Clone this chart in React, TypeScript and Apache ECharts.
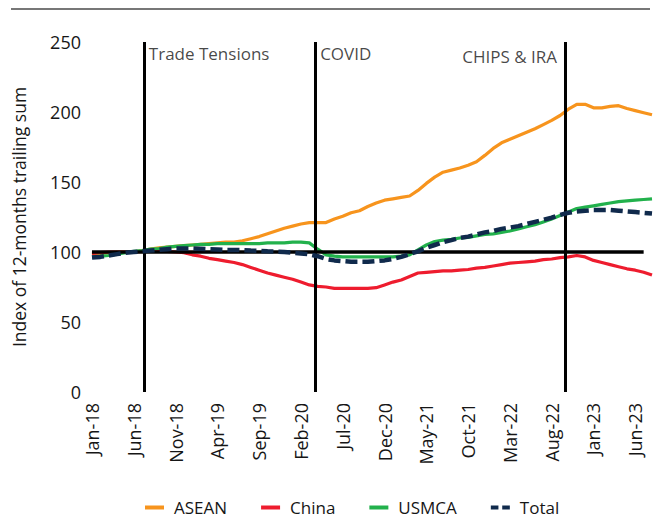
import React, { useEffect, useRef } from "react";
import * as echarts from "echarts";

// Monthly index values, Jan-18 (index 0) to Aug-23 (index 67)
const asean = [
  98, 99, 99.5, 100, 100, 100, 101, 102, 103, 103.5,
  104, 104.5, 105, 105.5, 106, 106.5, 107, 107, 108, 109.5,
  111, 113, 115, 117, 118.5, 120, 121, 121, 121, 123.5,
  125.5, 128, 129.5, 132.5, 135, 137, 138, 139, 140, 144,
  149, 153.5, 157, 158.5, 160, 162, 164.5, 169, 174, 178,
  180.5, 183, 185.5, 188, 191, 194, 197.5, 202, 205.5, 205.5,
  203, 203, 204, 204.5, 202.5, 201, 199.5, 198,
];
const china = [
  99, 99.5, 100, 100, 100, 100, 100.5, 100.5, 100.5, 100.5,
  100, 99.5, 98, 97, 95.5, 94.5, 93.5, 92.5, 91, 89,
  87, 85, 83.5, 82, 80.5, 78.5, 76.5, 75.5, 75, 74,
  74, 74, 74, 74, 74.5, 76.5, 78.5, 80, 82.5, 85,
  85.5, 86, 86.5, 86.5, 87, 87.5, 88.5, 89, 90, 91,
  92, 92.5, 93, 93.5, 94.5, 95, 96, 96.5, 97.5, 96.5,
  94, 92.5, 91, 89.5, 88, 87, 85.5, 83.5,
];
const usmca = [
  96.5, 97, 97.5, 98.5, 99.5, 100.5, 101, 102, 102.5, 103.5,
  104, 104.5, 105, 105.5, 105.5, 106, 106, 106, 106, 106,
  106, 106.5, 106.5, 106.5, 107, 107, 106.5, 102, 98, 97,
  96.5, 96.5, 96.5, 96.5, 96.5, 96.5, 96.5, 97, 98, 101.5,
  105, 107.5, 108.5, 109, 110, 110.5, 111.5, 112.5, 113, 114,
  115, 116.5, 118, 119.5, 121.5, 123.5, 126, 128.5, 131, 132,
  133, 134, 135, 136, 136.5, 137, 137.5, 138,
];
const total = [
  96, 96.5, 97.5, 98.5, 99.5, 100, 100.5, 101, 101.5, 102,
  102.5, 102.5, 102.5, 102.3, 102, 101.8, 101.5, 101.5, 101.3, 101,
  100.8, 100.5, 100.3, 100, 99.5, 99, 98.3, 97, 95, 94,
  93.5, 93, 93, 93, 93.5, 94, 95, 96.5, 98.5, 100.5,
  103, 105, 107, 108.5, 110, 111, 112.5, 114, 115, 116.5,
  117.5, 118.5, 120, 121.5, 123, 124.5, 126.5, 128, 129, 129.5,
  130, 130, 130, 129.5, 129, 128.5, 128, 127.5,
];

// x-axis tick labels, one every 5 months starting Jan-18
const tickLabels = [
  "Jan-18", "Jun-18", "Nov-18", "Apr-19", "Sep-19", "Feb-20", "Jul-20",
  "Dec-20", "May-21", "Oct-21", "Mar-22", "Aug-22", "Jan-23", "Jun-23",
];

// Event markers (month index position) and their labels
const eventNames = ["Trade Tensions", "COVID", "CHIPS & IRA"];
const eventPos = [6.2, 26.7, 56.6];
const eventLabelY = [241.5, 242, 240];
const eventLabelSide = ["right", "right", "left"];

const baselineValue = 100;
const baselineEnd = 66;

const FONT = "'Open Sans', 'Noto Sans', sans-serif";
const TXT = "#161616";

export default function App() {
  const ref = useRef<HTMLDivElement>(null);

  useEffect(() => {
    if (!ref.current) return;
    const chart = echarts.init(ref.current, null, { renderer: "svg" });
    const toXY = (arr: number[]) => arr.map((v, i) => [i, v]);

    const option: any = {
      animation: false,
      textStyle: { fontFamily: FONT, color: TXT },
      grid: {
        left: 92,
        right: 2,
        top: 42,
        bottom: 139,
        containLabel: false,
        outerBoundsMode: "none",
      },
      graphic: [
        {
          type: "line",
          shape: { x1: 11, y1: 9, x2: 650, y2: 9 },
          style: { stroke: "#4a4a4a", lineWidth: 1.5 },
        },
      ],
      legend: {
        data: [
          { name: "ASEAN", icon: "rect" },
          { name: "China", icon: "rect" },
          { name: "USMCA", icon: "rect" },
          { name: "Total", icon: "path://M0,0H8V4H0Z M12,0H20V4H12Z" },
        ],
        left: 145,
        top: 499,
        padding: 0,
        itemWidth: 19,
        itemHeight: 4,
        itemGap: 34,
        textStyle: { fontFamily: FONT, fontSize: 17, color: TXT, padding: [0, 0, 0, 5] },
      },
      xAxis: {
        type: "value",
        min: 0,
        max: 67,
        interval: 5,
        axisLine: { show: false },
        axisTick: { show: false },
        splitLine: { show: false },
        axisLabel: {
          rotate: 90,
          margin: 11,
          fontSize: 18,
          fontFamily: FONT,
          color: TXT,
          formatter: (v: number) => (v % 5 === 0 ? tickLabels[v / 5] || "" : ""),
        },
      },
      yAxis: {
        type: "value",
        min: 0,
        max: 250,
        interval: 50,
        axisLine: { show: false },
        axisTick: { show: false },
        splitLine: { show: false },
        axisLabel: { margin: 11, fontSize: 18, fontFamily: FONT, color: TXT },
        name: "Index of 12-months trailing sum",
        nameLocation: "middle",
        nameGap: 64,
        nameTextStyle: { fontSize: 17.5, fontFamily: FONT, color: TXT },
      },
      series: [
        {
          name: "ASEAN",
          type: "line",
          data: toXY(asean),
          symbol: "none",
          lineStyle: { color: "#F7941D", width: 3.2 },
          itemStyle: { color: "#F7941D" },
          z: 2,
        },
        {
          name: "China",
          type: "line",
          data: toXY(china),
          symbol: "none",
          lineStyle: { color: "#EE1C2E", width: 3.2 },
          itemStyle: { color: "#EE1C2E" },
          z: 2,
        },
        {
          name: "USMCA",
          type: "line",
          data: toXY(usmca),
          symbol: "none",
          lineStyle: { color: "#22B14C", width: 3.2 },
          itemStyle: { color: "#22B14C" },
          z: 2,
        },
        {
          name: "Events",
          type: "scatter",
          data: eventPos.map((p, i) => ({
            value: [p, eventLabelY[i]],
            name: eventNames[i],
            label: { position: eventLabelSide[i], distance: eventLabelSide[i] === "left" ? 8 : 5 },
          })),
          symbolSize: 0,
          silent: true,
          z: 4,
          label: {
            show: true,
            formatter: "{b}",
            fontSize: 17,
            fontFamily: FONT,
            color: TXT,
          },
          markLine: {
            silent: true,
            symbol: "none",
            label: { show: false },
            lineStyle: { color: "#000000", width: 3, type: "solid" },
            data: [
              ...eventPos.map((p) => [
                { coord: [p, 0] },
                { coord: [p, 250] },
              ]),
              [
                { coord: [0, baselineValue], lineStyle: { width: 3.5 } },
                { coord: [baselineEnd, baselineValue] },
              ],
            ],
          },
        },
        {
          name: "Total",
          type: "line",
          data: toXY(total),
          symbol: "none",
          lineStyle: { color: "#102A4C", width: 4.5, type: [12, 5] },
          itemStyle: { color: "#102A4C" },
          z: 6,
        },
      ],
    };
    chart.setOption(option);
    return () => chart.dispose();
  }, []);

  return (
    <div
      ref={ref}
      style={{ position: "absolute", left: 0, top: 0, width: 654, height: 531, background: "#ffffff" }}
    />
  );
}
